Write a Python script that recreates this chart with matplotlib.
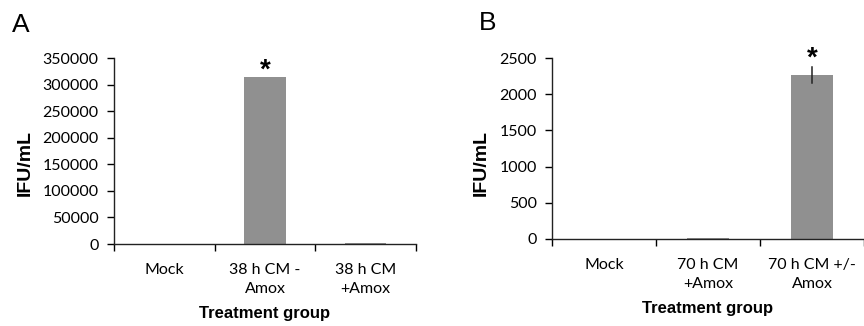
import numpy as np
import matplotlib
matplotlib.use("Agg")
import matplotlib.pyplot as plt

# panel A
cats_a = ["Mock", "38 h CM -\nAmox", "38 h CM\n+Amox"]
vals_a = [0, 315000, 2500]
err_a = [0, 0, 0]
ticks_a = [0, 50000, 100000, 150000, 200000, 250000, 300000, 350000]

# panel B
cats_b = ["Mock", "70 h CM\n+Amox", "70 h CM +/-\nAmox"]
vals_b = [0, 15, 2265]
err_b = [0, 3, 110]
ticks_b = [0, 500, 1000, 1500, 2000, 2500]

star_a = [False, True, False]
star_b = [False, False, True]

bar_col = "#909090"
tick_font = "Lato"
lab_font = "Liberation Sans"

fig = plt.figure(figsize=(8.64, 3.26), dpi=100)
ax_a = fig.add_axes([114/864, 1-244/326, (416-114)/864, (244-58)/326])
ax_b = fig.add_axes([552/864, 1-239/326, (864-552)/864, (239-58)/326])

def draw(ax, cats, vals, err, stars, yticks, xmax, star_off):
    x = np.arange(len(cats))
    ax.bar(x, vals, width=0.41, color=bar_col, edgecolor="none", zorder=2)
    for xi, v, e in zip(x, vals, err):
        if e > 0:
            ax.plot([xi, xi], [v - e, v + e], color="#222222", lw=1.1, zorder=3)
    for xi, v, e, s in zip(x, vals, err, stars):
        if s:
            ax.annotate("*", (xi, v + e), xytext=(0, star_off), textcoords="offset points",
                        ha="center", va="bottom", fontsize=20, fontweight="bold",
                        family=lab_font)
    ax.set_xlim(-0.5, xmax)
    ax.set_ylim(0, yticks[-1])
    ax.set_yticks(yticks)
    ax.set_yticklabels([str(t) for t in yticks], family=tick_font, fontsize=11.5)
    ax.set_xticks(np.arange(len(cats) + 1) - 0.5)
    ax.set_xticklabels([])
    ax.set_xticks(x, minor=True)
    ax.set_xticklabels(cats, minor=True, family=tick_font, fontsize=11.5, linespacing=1.4)
    ax.tick_params(axis="x", which="minor", length=0, pad=14)
    ax.tick_params(axis="x", which="major", direction="out", length=5, width=1)
    ax.tick_params(axis="y", direction="out", length=5, width=1, pad=6)
    for s in ["top", "right"]:
        ax.spines[s].set_visible(False)
    for s in ["left", "bottom"]:
        ax.spines[s].set_linewidth(1)
        ax.spines[s].set_color("#222222")
    ax.set_ylabel("IFU/mL", family=lab_font, fontsize=14, fontweight="bold")
    ax.set_xlabel("Treatment group", family=lab_font, fontsize=12, fontweight="bold", labelpad=7)

draw(ax_a, cats_a, vals_a, err_a, star_a, ticks_a, 2.5, -5)
draw(ax_b, cats_b, vals_b, err_b, star_b, ticks_b, 2.416, -3)

ax_a.yaxis.set_label_coords(34/864, 0.5, transform=fig.transFigure)
ax_b.yaxis.set_label_coords(490/864, 0.5, transform=fig.transFigure)

fig.text(12/864, 1-32/326, "A", family=lab_font, fontsize=19, ha="left", va="baseline")
fig.text(479/864, 1-30/326, "B", family=lab_font, fontsize=19, ha="left", va="baseline")

fig.savefig("out.png", dpi=100)
